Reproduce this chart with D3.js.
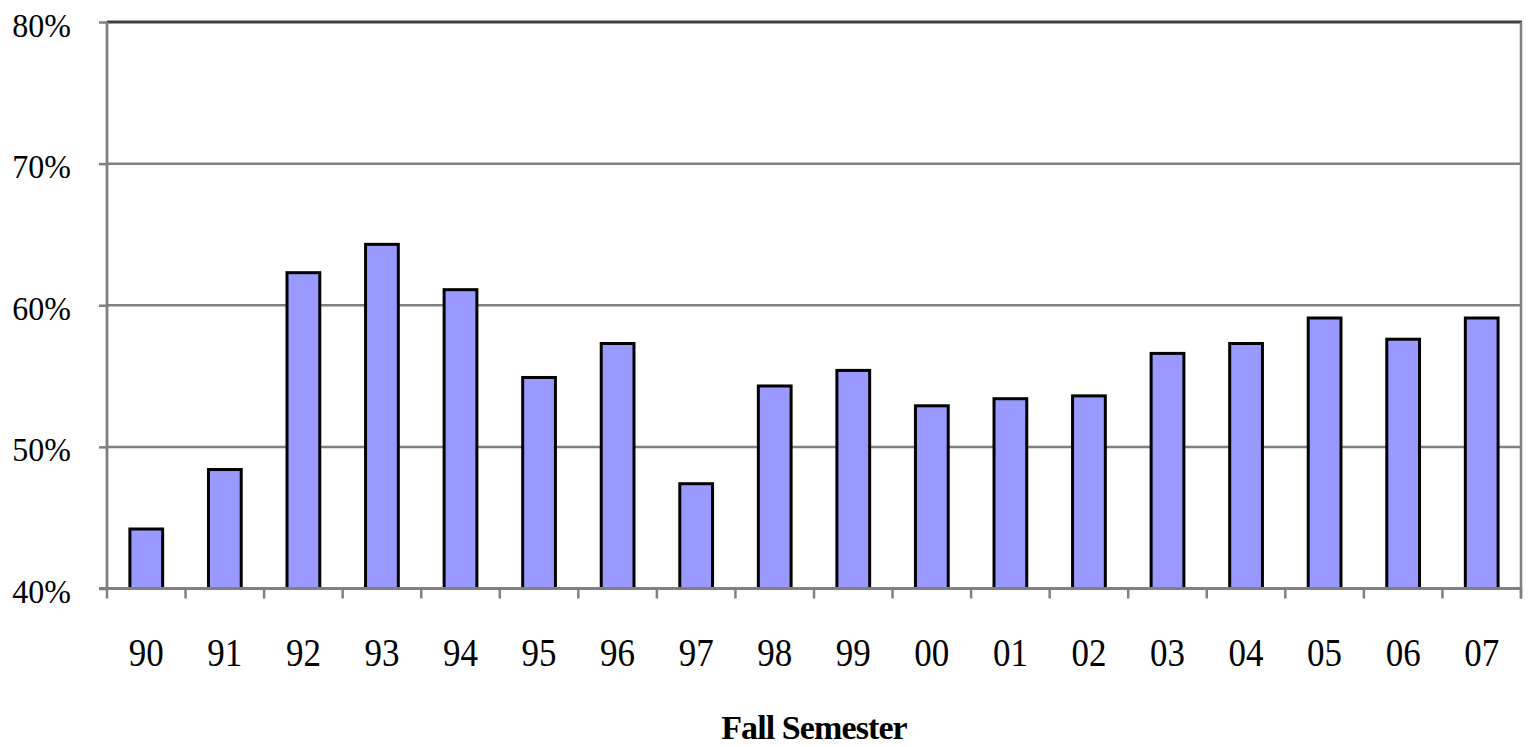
<!DOCTYPE html>
<html>
<head>
<meta charset="utf-8">
<script src="https://cdn.jsdelivr.net/npm/d3@7/dist/d3.min.js"></script>
<style>
  html, body { margin: 0; padding: 0; background: #fff; }
  svg { display: block; }
  text { font-family: 'Liberation Serif', 'Times New Roman', serif; }
</style>
</head>
<body>
<svg id="chart" width="1529" height="747"></svg>
<script>
const categories = ["90","91","92","93","94","95","96","97","98","99","00","01","02","03","04","05","06","07"];
const values = [44.2, 48.4, 62.3, 64.3, 61.1, 54.9, 57.3, 47.4, 54.3, 55.4, 52.9, 53.4, 53.6, 56.6, 57.3, 59.1, 57.6, 59.1];
const yTicks = [40, 50, 60, 70, 80];
const xTitle = "Fall Semester";

(function () {
const svg = d3.select("#chart");
const pLeft = 107, pRight = 1521, pTop = 22, pBottom = 588.5;
const serif = "'Liberation Serif', 'Times New Roman', serif";

const x = d3.scaleBand().domain(categories).range([pLeft, pRight]).paddingInner(0.583).paddingOuter(0.2915);
const y = d3.scaleLinear().domain([40, 80]).range([pBottom, pTop]);

// gridlines
svg.append("g").selectAll("line").data(yTicks.filter(t => t !== 40 && t !== 80)).join("line")
  .attr("x1", pLeft).attr("x2", pRight)
  .attr("y1", d => y(d)).attr("y2", d => y(d))
  .attr("stroke", "#808080").attr("stroke-width", 2.5);

// top border (darker)
svg.append("line").attr("x1", pLeft).attr("x2", pRight + 1).attr("y1", y(80)).attr("y2", y(80))
  .attr("stroke", "#404040").attr("stroke-width", 2.8);
// right border
svg.append("line").attr("x1", pRight).attr("x2", pRight).attr("y1", pTop).attr("y2", pBottom + 10)
  .attr("stroke", "#808080").attr("stroke-width", 2.5);

// bars
svg.append("g").selectAll("rect").data(values).join("rect")
  .attr("x", (d, i) => x(categories[i]))
  .attr("width", x.bandwidth())
  .attr("y", d => y(d))
  .attr("height", d => y(40) - y(d))
  .attr("fill", "#9999FF")
  .attr("stroke", "#000")
  .attr("stroke-width", 3);

// y axis
const yAxis = svg.append("g").attr("transform", `translate(${pLeft},0)`)
  .call(d3.axisLeft(y).tickValues(yTicks).tickSize(8).tickFormat(d => d + "%"));
yAxis.attr("font-family", serif);
yAxis.select(".domain").attr("stroke", "#808080").attr("stroke-width", 2.8)
  .attr("d", `M0,${pTop}V${pBottom}`);
yAxis.selectAll(".tick line").attr("stroke", "#808080").attr("stroke-width", 2.5);
yAxis.selectAll(".tick text")
  .style("font-family", serif)
  .attr("font-size", 32).attr("fill", "#000")
  .attr("x", -36).attr("dy", null).attr("y", 0)
  .attr("transform", "translate(0,14) scale(1,1.08)");

// x axis
const xAxis = svg.append("g").attr("transform", `translate(0,${pBottom})`)
  .call(d3.axisBottom(x).tickSize(0).tickSizeOuter(0));
xAxis.attr("font-family", serif);
xAxis.select(".domain").attr("stroke", "#808080").attr("stroke-width", 2.8)
  .attr("d", `M${pLeft - 8},0H${pRight}`);
xAxis.selectAll(".tick text")
  .style("font-family", serif)
  .attr("font-size", 35).attr("fill", "#000")
  .attr("dy", null).attr("y", 0)
  .attr("transform", "translate(0,77) scale(1,1.15)");

// x ticks at band boundaries
const bounds = categories.map(c => x(c) - x.step() * x.paddingInner() / 2).concat([pRight]);
svg.append("g").selectAll("line").data(bounds).join("line")
  .attr("x1", d => d).attr("x2", d => d)
  .attr("y1", pBottom).attr("y2", pBottom + 10)
  .attr("stroke", "#808080").attr("stroke-width", 2.5);

// x title
svg.append("text")
  .attr("x", (pLeft + pRight) / 2).attr("y", 739)
  .attr("text-anchor", "middle")
  .style("font-family", serif)
  .attr("font-weight", "bold").attr("font-size", 34)
  .attr("letter-spacing", -0.9)
  .text(xTitle);
})();
</script>
</body>
</html>
